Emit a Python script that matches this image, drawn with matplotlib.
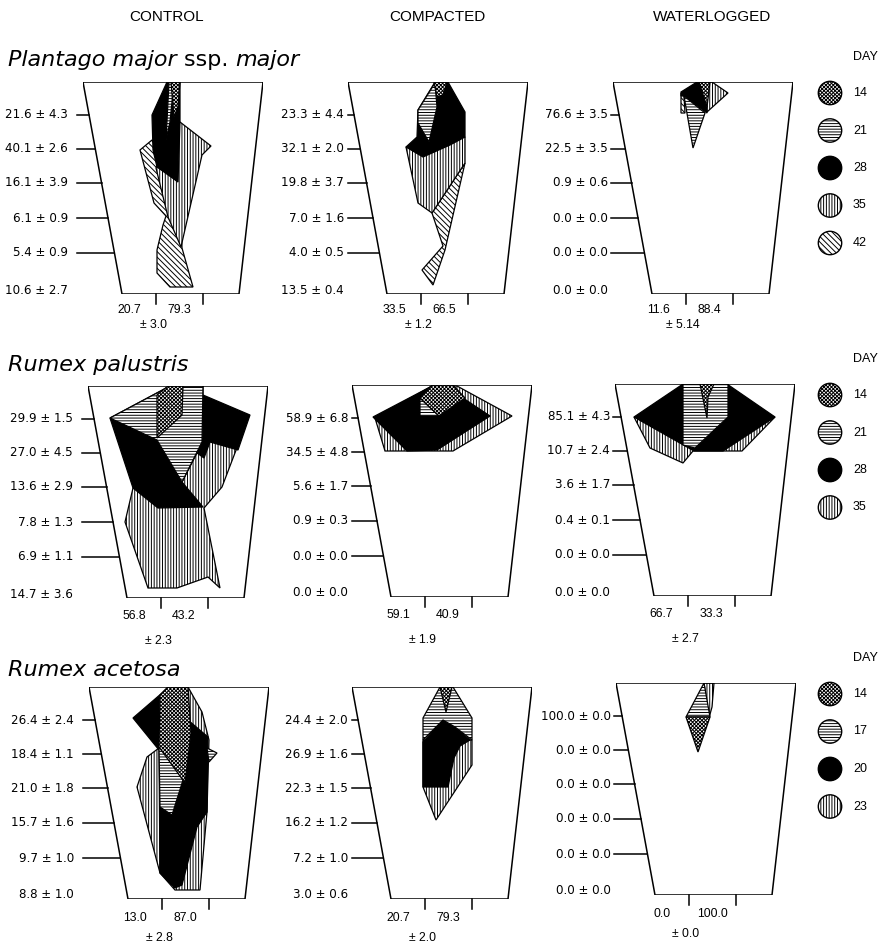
import matplotlib
matplotlib.use('Agg')
import matplotlib.pyplot as plt
from matplotlib.patches import Polygon, Circle

plt.rcParams['font.family'] = ['Liberation Sans', 'DejaVu Sans']
plt.rcParams['hatch.linewidth'] = 0.7

conditions = ['CONTROL', 'COMPACTED', 'WATERLOGGED']
species = [('Plantago major ', 'ssp. ', 'major'), ('Rumex palustris',), ('Rumex acetosa',)]
days = [[14, 21, 28, 35, 42], [14, 21, 28, 35], [14, 17, 20, 23]]

# % of root mass per depth layer, mean and s.e. (rows = species, cols = treatment)
layer_mean = [
    [[21.6, 40.1, 16.1, 6.1, 5.4, 10.6], [23.3, 32.1, 19.8, 7.0, 4.0, 13.5], [76.6, 22.5, 0.9, 0.0, 0.0, 0.0]],
    [[29.9, 27.0, 13.6, 7.8, 6.9, 14.7], [58.9, 34.5, 5.6, 0.9, 0.0, 0.0], [85.1, 10.7, 3.6, 0.4, 0.0, 0.0]],
    [[26.4, 18.4, 21.0, 15.7, 9.7, 8.8], [24.4, 26.9, 22.3, 16.2, 7.2, 3.0], [100.0, 0.0, 0.0, 0.0, 0.0, 0.0]],
]
layer_se = [
    [[4.3, 2.6, 3.9, 0.9, 0.9, 2.7], [4.4, 2.0, 3.7, 1.6, 0.5, 0.4], [3.5, 3.5, 0.6, 0.0, 0.0, 0.0]],
    [[1.5, 4.5, 2.9, 1.3, 1.1, 3.6], [6.8, 4.8, 1.7, 0.3, 0.0, 0.0], [4.3, 2.4, 1.7, 0.1, 0.0, 0.0]],
    [[2.4, 1.1, 1.8, 1.6, 1.0, 1.0], [2.0, 1.6, 1.5, 1.2, 1.0, 0.6], [0.0, 0.0, 0.0, 0.0, 0.0, 0.0]],
]
# left / right half split (%) and its s.e.
split_left = [[20.7, 33.5, 11.6], [56.8, 59.1, 66.7], [13.0, 20.7, 0.0]]
split_right = [[79.3, 66.5, 88.4], [43.2, 40.9, 33.3], [87.0, 79.3, 100.0]]
split_se = [['3.0', '1.2', '5.14'], ['2.3', '1.9', '2.7'], ['2.8', '2.0', '0.0']]

# root outlines per harvest day (index into days), x across pot top (mm, 0-180), depth (mm)
outlines = [
    [
        [[[(88, 0), (97, 0), (95, 25), (91, 35)]],
         [[(86, 0), (91, 0), (87, 40), (83, 58)]],
         [[(84, 0), (97, 0), (97, 40), (95, 100), (74, 85), (70, 68), (69, 33)]],
         [[(97, 40), (128, 64), (119, 73), (98, 165), (85, 135), (73, 86)]],
         [[(69, 58), (57, 68), (71, 121), (83, 134), (80, 143), (74, 168), (74, 191), (87, 205),
           (110, 205), (99, 166), (97, 108)]]],
        [[[(86, 0), (99, 0), (95, 13), (89, 15)]],
         [[(87, 1), (70, 28), (70, 41), (81, 60), (89, 25)]],
         [[(87, 0), (100, 0), (117, 30), (117, 55), (102, 63), (75, 75), (58, 65), (69, 55), (70, 28)]],
         [[(58, 65), (117, 55), (117, 81), (84, 131), (70, 121)]],
         [[(117, 81), (84, 131), (95, 164), (74, 188), (85, 203), (97, 168)]]],
        [[[(86, 0), (97, 0), (94, 25)]],
         [[(71, 14), (92, 31), (80, 66)]],
         [[(68, 10), (84, 0), (95, 0), (94, 31), (71, 14), (68, 14)]],
         [[(87, 0), (99, 0), (115, 11), (94, 30)]],
         [[(68, 11), (71, 14), (72, 31), (68, 31)]]],
    ],
    [
        [[[(69, 9), (80, 0), (95, 0), (94, 29), (69, 52)]],
         [[(22, 32), (82, 0), (115, 0), (114, 56), (94, 96), (69, 54)]],
         [[(22, 32), (82, 0), (115, 0), (115, 9), (162, 29), (150, 64), (122, 56), (116, 72), (109, 67),
           (94, 96), (115, 121), (70, 122), (45, 102)]],
         [[(45, 102), (37, 136), (60, 202), (89, 202), (120, 191), (132, 202), (116, 122), (134, 101),
           (150, 59), (114, 54), (94, 96)]]],
        [[[(68, 13), (80, 0), (101, 0), (113, 13), (87, 31)]],
         [[(68, 13), (87, 31), (68, 31)]],
         [[(21, 32), (80, 1), (111, 13), (138, 31), (85, 65), (55, 66)]],
         [[(23, 33), (80, 1), (105, 1), (160, 31), (101, 66), (33, 66)]]],
        [[[(85, 0), (99, 0), (93, 13), (92, 34)]],
         [[(68, 0), (113, 0), (113, 33), (80, 64), (68, 61)]],
         [[(19, 33), (68, 0), (112, 0), (160, 33), (108, 67), (79, 67)]],
         [[(19, 33), (160, 33), (127, 67), (78, 67), (68, 79), (35, 64)]]],
    ],
    [
        [[[(71, 8), (79, 0), (99, 0), (102, 46), (96, 96), (70, 60)]],
         [[(70, 60), (88, 73), (94, 93), (83, 128), (71, 120)], [(118, 61), (128, 66), (120, 75)]],
         [[(44, 31), (73, 6), (79, 0), (99, 0), (99, 33), (119, 50), (118, 125), (108, 140), (93, 198),
           (86, 201), (71, 186), (70, 63)]],
         [[(99, 0), (113, 25), (120, 53), (118, 125), (111, 203), (86, 203), (71, 186), (48, 100),
           (58, 70), (70, 61)]]],
        [[[(88, 0), (100, 0), (94, 25)]],
         [[(88, 0), (101, 0), (120, 31), (120, 53), (103, 40), (91, 33), (71, 53), (71, 31)]],
         [[(71, 55), (91, 33), (103, 40), (118, 53), (108, 59), (102, 71), (96, 100), (71, 100)]],
         [[(71, 53), (120, 53), (120, 78), (84, 133), (71, 100)]]],
        [[[(70, 34), (94, 34), (82, 69)]],
         [[(88, 0), (94, 34), (70, 34)]],
         [],
         [[(88, 0), (98, 0), (96, 24), (93, 35)]]],
    ],
]

# fill style per harvest position
hatches = ['xxxxxxxxx', '------', None, '||||||', '\\\\\\\\\\\\']

W, H = 882, 944
TOP_W, DEPTH, BL, BR = 180, 212, 39, 24
tick_depth = [33, 67, 101, 136, 171, 208]
pot_x = [[83, 348, 613], [88, 352, 615], [89, 352, 616]]
pot_y = [[82, 82, 82], [386, 385, 384], [687, 687, 683]]
lab_off = [-15, -4, -5]
tick_off = [-6, 0, -2]
bot_dy = [16, 18, 19]
pm_dy = [31, 43, 39]
title_y = [60, 365, 670]
day_y = [57, 359, 658]

fig = plt.figure(figsize=(W / 100, H / 100), dpi=100)
bg = fig.add_axes([0, 0, 1, 1])
bg.set_xlim(0, W)
bg.set_ylim(H, 0)
bg.axis('off')

for c, name in enumerate(conditions):
    bg.text([167, 437, 712][c], 17, name, fontsize=11, ha='center', va='center')


def style_of(k):
    if hatches[k] is None:
        return dict(facecolor='black', edgecolor='black')
    return dict(facecolor='white', edgecolor='black', hatch=hatches[k])


renderer = fig.canvas.get_renderer()
for r in range(3):
    # species title, "ssp." upright
    x = 8
    for part in species[r]:
        t = bg.text(x, title_y[r], part, fontsize=16, va='center', family='DejaVu Sans',
                    style='normal' if part.startswith('ssp') else 'italic')
        x += t.get_window_extent(renderer).width

    # legend
    bg.text(853, day_y[r], 'DAY', fontsize=9, va='center')
    for k, d in enumerate(days[r]):
        cy = day_y[r] + 36 + k * 37.5
        bg.add_patch(Circle((830, cy), 11.7, lw=1.0, **style_of(k)))
        bg.text(853, cy, str(d), fontsize=9, va='center')

    for c in range(3):
        x0, y0 = pot_x[r][c], pot_y[r][c]
        ax = fig.add_axes([x0 / W, 1 - (y0 + DEPTH) / H, TOP_W / W, DEPTH / H])
        ax.set_xlim(0, TOP_W)
        ax.set_ylim(DEPTH, 0)
        ax.axis('off')

        shapes = outlines[r][c]
        for k in range(len(shapes) - 1, -1, -1):
            for pts in shapes[k]:
                ax.add_patch(Polygon(pts, closed=True, lw=0.9, zorder=2, **style_of(k)))

        ax.add_patch(Polygon([(0, 0), (TOP_W, 0), (TOP_W - BR, DEPTH), (BL, DEPTH)],
                             closed=True, fill=False, lw=1.1, edgecolor='black', zorder=5))

        for i, d in enumerate(tick_depth):
            if i < 5:
                ax.plot([tick_off[c], BL * d / DEPTH], [d, d], color='black', lw=1.1, clip_on=False)
            ax.text(lab_off[c], d,
                    f'{layer_mean[r][c][i]:.1f} \u00b1 {layer_se[r][c][i]:.1f}',
                    fontsize=8.6, family='DejaVu Sans', ha='right', va='center')

        for tx in (73, 120):
            ax.plot([tx, tx], [DEPTH, DEPTH + 10], color='black', lw=1.1, clip_on=False)
        ax.text(73 - 27, DEPTH + bot_dy[r], f'{split_left[r][c]:.1f}', fontsize=8.8, ha='center', va='center')
        ax.text(73 + 23, DEPTH + bot_dy[r], f'{split_right[r][c]:.1f}', fontsize=8.8, ha='center', va='center')
        ax.text(73 - 3, DEPTH + pm_dy[r], f'\u00b1 {split_se[r][c]}', fontsize=8.8, ha='center', va='center')

fig.savefig('out.png', dpi=100)
